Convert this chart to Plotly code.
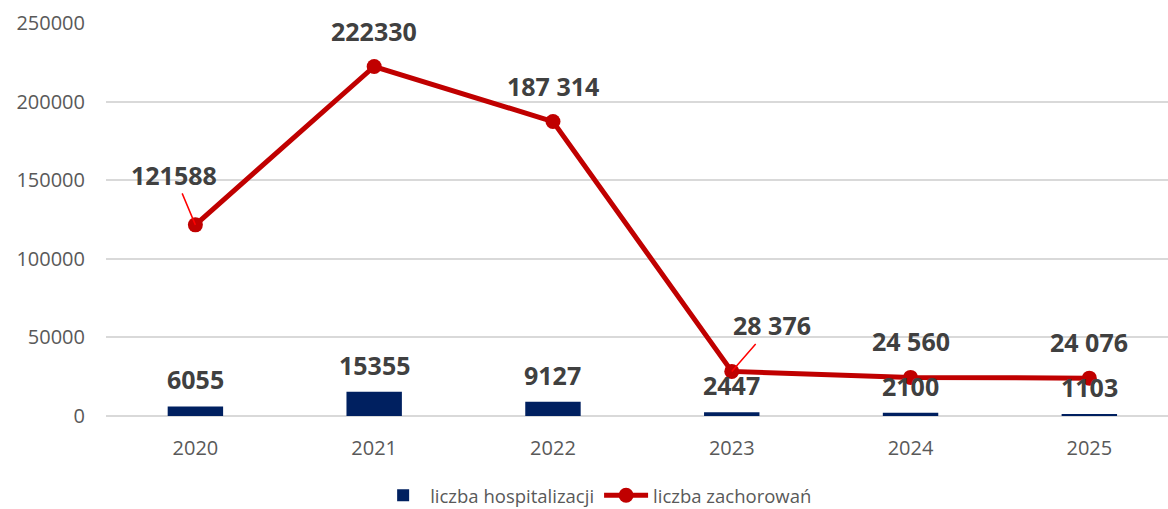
import plotly.graph_objects as go

years = ["2020", "2021", "2022", "2023", "2024", "2025"]
hospitalizations = [6055, 15355, 9127, 2447, 2100, 1103]
cases = [121588, 222330, 187314, 28376, 24560, 24076]
case_labels = ["121588", "222330", "187 314", "28 376", "24 560", "24 076"]
hosp_labels = ["6055", "15355", "9127", "2447", "2100", "1103"]

FONT = "Open Sans"
NAVY = "#002060"
RED = "#C00000"
LABEL = "#404040"
TICK = "#595959"

fig = go.Figure()
fig.add_trace(go.Bar(
    x=years, y=hospitalizations, name="liczba hospitalizacji",
    marker=dict(color=NAVY, line=dict(width=0)), width=0.31,
))
fig.add_trace(go.Scatter(
    x=years, y=cases, name="liczba zachorowań", mode="lines+markers",
    line=dict(color=RED, width=5), marker=dict(color=RED, size=15),
))

lab_font = dict(family=FONT, size=25, color=LABEL)
annotations = []
# category axis: annotations use the category index
for i, (v, t) in enumerate(zip(hospitalizations, hosp_labels)):
    annotations.append(dict(x=i, y=v, xref="x", yref="y", text="<b>" + t + "</b>",
                            showarrow=False, yshift=27, font=lab_font))

leader = {"2020": (-21, -50), "2023": (40, -46)}
for i, (yr, v, t) in enumerate(zip(years, cases, case_labels)):
    if yr in leader:
        ax, ay = leader[yr]
        annotations.append(dict(x=i, y=v, xref="x", yref="y", text="<b>" + t + "</b>",
                                showarrow=True, arrowhead=0,
                                arrowwidth=1.5, arrowcolor="#FF0000", ax=ax, ay=ay,
                                standoff=0, font=lab_font))
    else:
        annotations.append(dict(x=i, y=v, xref="x", yref="y", text="<b>" + t + "</b>",
                                showarrow=False, yshift=36, font=lab_font))

fig.update_layout(
    width=1168, height=509,
    margin=dict(l=106, r=0, t=23, b=93, autoexpand=False),
    paper_bgcolor="white", plot_bgcolor="white",
    font=dict(family=FONT, size=20, color=TICK),
    showlegend=True,
    legend=dict(orientation="h", x=0.462, xanchor="center", y=-0.203, yanchor="middle",
                font=dict(family=FONT, size=18.5, color=TICK), traceorder="normal",
                itemwidth=44),
    xaxis=dict(type="category", range=[-0.5, 5.44], showgrid=False, ticks="",
               showline=False, ticklabelstandoff=18, automargin=False,
               tickfont=dict(family=FONT, size=20, color=TICK)),
    yaxis=dict(range=[0, 250000], dtick=50000, showgrid=True, gridcolor="#D9D9D9",
               gridwidth=1.5, zeroline=True, zerolinecolor="#D9D9D9", zerolinewidth=1.5,
               ticks="", showline=False, ticklabelstandoff=20, tickformat="d",
               automargin=False,
               tickfont=dict(family=FONT, size=20, color=TICK)),
    annotations=annotations,
)

fig.write_html("out.html", config={"displayModeBar": False},
               post_script="document.body.style.margin='0';")
